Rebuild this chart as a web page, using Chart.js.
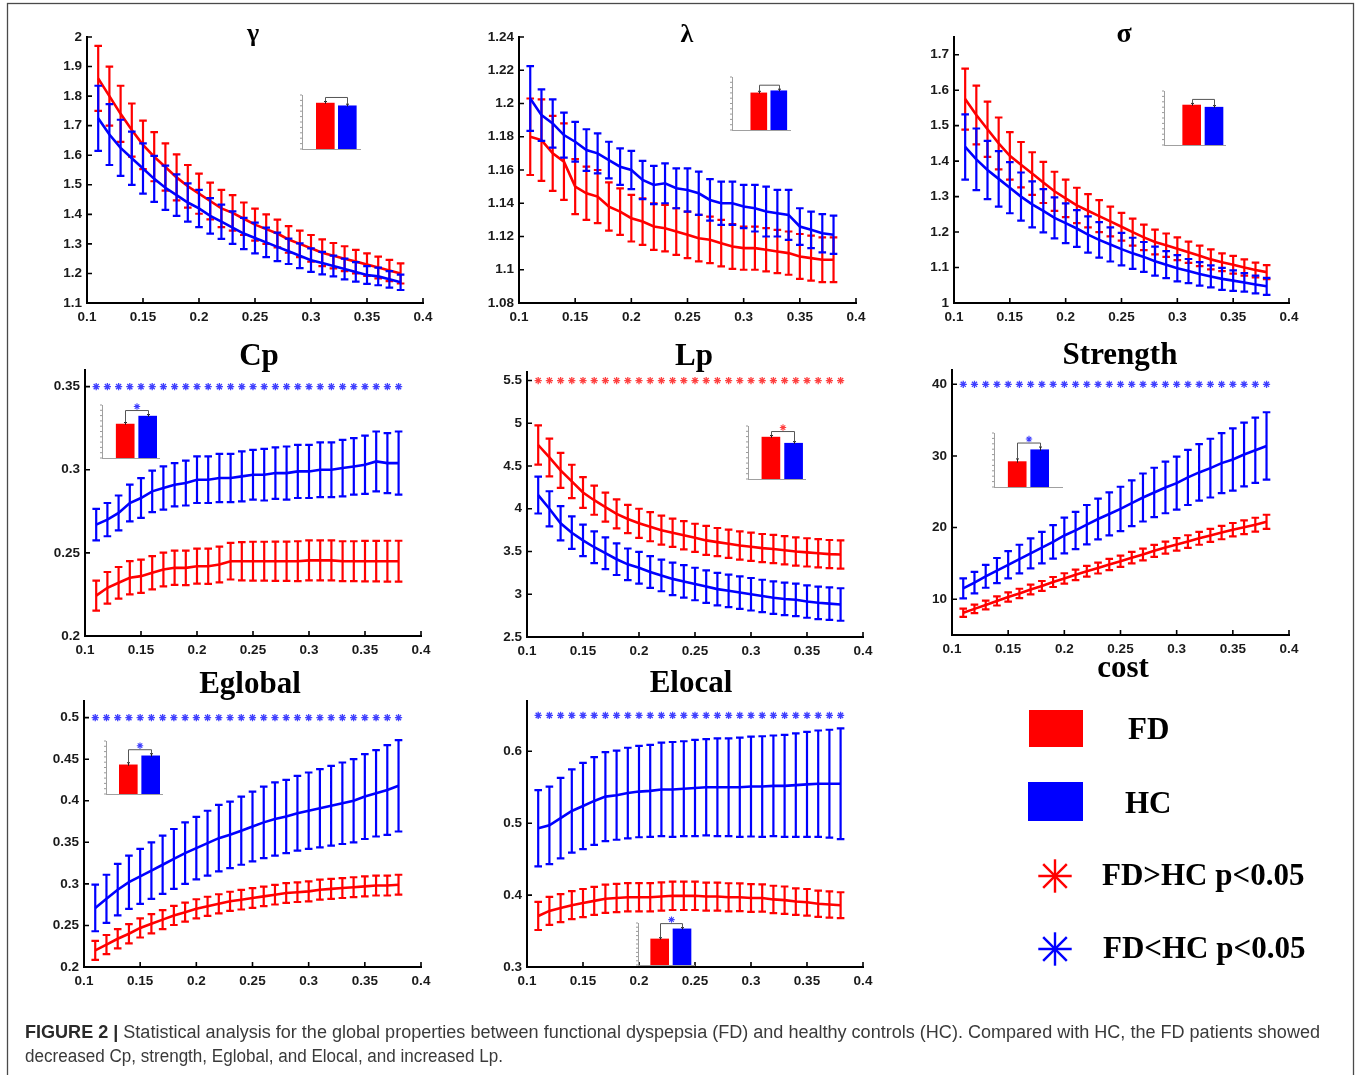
<!DOCTYPE html>
<html>
<head>
<meta charset="utf-8">
<script src="https://cdn.jsdelivr.net/npm/chart.js@4.4.1/dist/chart.umd.min.js"></script>
<style>
  html, body { margin:0; padding:0; background:#fff; }
  #fig { position:relative; width:1357px; height:1075px; overflow:hidden; background:#fff; }
  .pane { position:absolute; }
  .pane canvas { display:block; }
  #overlay { position:absolute; left:0; top:0; pointer-events:none; }
</style>
</head>
<body>
<div id="fig"></div>
<script>
// ---------------- DATA ----------------
const costs = [0.11,0.12,0.13,0.14,0.15,0.16,0.17,0.18,0.19,0.20,0.21,0.22,0.23,0.24,0.25,0.26,0.27,0.28,0.29,0.30,0.31,0.32,0.33,0.34,0.35,0.36,0.37,0.38];
const xTicks = [0.1,0.15,0.2,0.25,0.3,0.35,0.4];

const gammaFD   = [1.86,1.80,1.74,1.685,1.635,1.595,1.56,1.525,1.495,1.47,1.445,1.42,1.405,1.385,1.365,1.35,1.335,1.315,1.30,1.285,1.27,1.26,1.25,1.24,1.23,1.22,1.21,1.20];
const gammaFDsd = [0.11,0.10,0.095,0.09,0.082,0.083,0.08,0.078,0.072,0.068,0.062,0.063,0.06,0.055,0.054,0.05,0.047,0.045,0.045,0.045,0.045,0.043,0.042,0.04,0.038,0.037,0.036,0.034];
const gammaHC   = [1.725,1.67,1.625,1.59,1.555,1.52,1.49,1.465,1.44,1.42,1.395,1.375,1.355,1.335,1.32,1.305,1.29,1.275,1.26,1.245,1.235,1.225,1.215,1.205,1.195,1.19,1.18,1.17];
const gammaHCsd = [0.11,0.103,0.095,0.09,0.085,0.078,0.075,0.07,0.065,0.063,0.06,0.058,0.055,0.053,0.052,0.05,0.048,0.043,0.042,0.04,0.038,0.035,0.035,0.033,0.03,0.03,0.028,0.026];
const gammaTicks = [1.1,1.2,1.3,1.4,1.5,1.6,1.7,1.8,1.9,2];

const lambdaFD   = [1.180,1.178,1.170,1.165,1.150,1.146,1.144,1.138,1.135,1.131,1.129,1.126,1.125,1.123,1.121,1.119,1.118,1.116,1.114,1.113,1.113,1.112,1.111,1.110,1.108,1.107,1.106,1.106];
const lambdaFDsd = [0.023,0.0245,0.0225,0.023,0.0165,0.016,0.016,0.0145,0.014,0.014,0.014,0.014,0.014,0.014,0.014,0.014,0.014,0.014,0.0135,0.013,0.013,0.013,0.013,0.013,0.0135,0.0135,0.0135,0.0135];
const lambdaHC   = [1.203,1.193,1.188,1.181,1.177,1.172,1.170,1.166,1.162,1.160,1.154,1.151,1.152,1.149,1.148,1.146,1.142,1.140,1.140,1.138,1.137,1.135,1.134,1.133,1.126,1.124,1.122,1.121];
const lambdaHCsd = [0.0195,0.0155,0.0145,0.0135,0.012,0.0125,0.012,0.011,0.011,0.0115,0.0115,0.0115,0.012,0.012,0.013,0.013,0.0125,0.013,0.013,0.013,0.014,0.015,0.014,0.015,0.011,0.011,0.0115,0.0115];
const lambdaTicks = [1.08,1.1,1.12,1.14,1.16,1.18,1.2,1.22,1.24];

const sigmaFD   = [1.575,1.53,1.49,1.45,1.415,1.39,1.365,1.34,1.315,1.295,1.275,1.26,1.245,1.23,1.215,1.20,1.185,1.172,1.163,1.153,1.143,1.133,1.123,1.115,1.108,1.10,1.093,1.087];
const sigmaFDsd = [0.086,0.083,0.078,0.073,0.067,0.064,0.06,0.058,0.055,0.053,0.05,0.047,0.045,0.042,0.039,0.038,0.036,0.035,0.033,0.032,0.03,0.029,0.028,0.025,0.025,0.023,0.021,0.02];
const sigmaHC   = [1.44,1.405,1.375,1.35,1.325,1.30,1.278,1.26,1.24,1.225,1.21,1.193,1.178,1.165,1.152,1.14,1.13,1.118,1.108,1.098,1.09,1.082,1.075,1.068,1.063,1.058,1.052,1.047];
const sigmaHCsd = [0.092,0.087,0.082,0.078,0.072,0.068,0.065,0.061,0.058,0.056,0.052,0.051,0.05,0.048,0.046,0.044,0.042,0.041,0.038,0.037,0.034,0.033,0.031,0.031,0.029,0.026,0.025,0.024];
const sigmaTicks = [1,1.1,1.2,1.3,1.4,1.5,1.6,1.7];

const cpFD   = [0.2243,0.229,0.232,0.235,0.236,0.238,0.240,0.241,0.241,0.242,0.242,0.243,0.245,0.245,0.245,0.245,0.245,0.245,0.245,0.2455,0.2455,0.2455,0.245,0.245,0.245,0.245,0.245,0.245];
const cpFDsd = [0.009,0.0095,0.0095,0.01,0.01,0.01,0.0102,0.0103,0.0104,0.0105,0.0106,0.0108,0.011,0.0115,0.0117,0.0117,0.0118,0.0118,0.012,0.012,0.012,0.012,0.012,0.012,0.0122,0.0122,0.0123,0.0123];
const cpHC   = [0.267,0.270,0.274,0.280,0.283,0.287,0.289,0.291,0.292,0.294,0.294,0.295,0.295,0.296,0.297,0.297,0.298,0.298,0.299,0.299,0.300,0.300,0.301,0.302,0.303,0.305,0.304,0.304];
const cpHCsd = [0.0095,0.01,0.0105,0.011,0.012,0.0125,0.013,0.013,0.0135,0.014,0.014,0.0145,0.0145,0.015,0.015,0.0155,0.0155,0.016,0.016,0.016,0.0165,0.0165,0.017,0.017,0.0175,0.018,0.018,0.019];
const cpTicks = [0.2,0.25,0.3,0.35];

const lpFD   = [4.746,4.60,4.45,4.32,4.19,4.10,4.02,3.94,3.88,3.83,3.79,3.75,3.72,3.69,3.66,3.63,3.61,3.59,3.57,3.555,3.54,3.53,3.515,3.50,3.49,3.48,3.47,3.465];
const lpFDsd = [0.23,0.22,0.205,0.195,0.18,0.17,0.17,0.17,0.165,0.17,0.17,0.17,0.165,0.165,0.165,0.17,0.165,0.165,0.165,0.165,0.165,0.165,0.165,0.165,0.165,0.165,0.165,0.165];
const lpHC   = [4.16,4.00,3.83,3.72,3.63,3.55,3.48,3.41,3.35,3.31,3.26,3.22,3.18,3.15,3.12,3.09,3.06,3.04,3.02,3.00,2.98,2.96,2.945,2.935,2.915,2.90,2.89,2.88];
const lpHCsd = [0.215,0.205,0.2,0.19,0.185,0.185,0.185,0.185,0.185,0.185,0.185,0.185,0.19,0.19,0.19,0.19,0.19,0.19,0.19,0.19,0.19,0.19,0.19,0.19,0.19,0.19,0.19,0.19];
const lpTicks = [2.5,3,3.5,4,4.5,5,5.5];

const strFD   = [8.1,8.65,9.2,9.75,10.3,10.8,11.35,11.85,12.4,12.9,13.4,13.9,14.35,14.85,15.3,15.8,16.25,16.75,17.2,17.65,18.05,18.5,18.9,19.3,19.7,20.05,20.4,20.8];
const strFDsd = [0.58,0.6,0.61,0.63,0.64,0.66,0.67,0.69,0.7,0.72,0.73,0.75,0.76,0.78,0.79,0.81,0.82,0.84,0.85,0.87,0.88,0.9,0.91,0.93,0.94,0.96,0.97,0.99];
const strHC   = [11.5,12.3,13.2,14.0,14.8,15.6,16.4,17.2,18.0,18.9,19.6,20.4,21.2,21.9,22.6,23.4,24.2,24.9,25.6,26.2,27.0,27.7,28.3,29.0,29.5,30.2,30.8,31.4];
const strHCsd = [1.4,1.5,1.6,1.75,1.9,2.0,2.1,2.2,2.35,2.5,2.6,2.75,2.85,3.0,3.1,3.2,3.35,3.45,3.6,3.7,3.85,3.95,4.1,4.2,4.35,4.45,4.55,4.7];
const strTicks = [10,20,30,40];

const egFD   = [0.220,0.227,0.234,0.240,0.247,0.252,0.257,0.262,0.266,0.270,0.273,0.276,0.279,0.281,0.283,0.285,0.287,0.289,0.290,0.291,0.293,0.294,0.295,0.296,0.297,0.298,0.298,0.299];
const egFDsd = [0.0115,0.0115,0.0115,0.0115,0.0115,0.0115,0.0115,0.0115,0.0115,0.0115,0.0115,0.0115,0.0115,0.0118,0.0118,0.0118,0.0118,0.0118,0.0118,0.012,0.012,0.012,0.012,0.012,0.012,0.012,0.012,0.012];
const egHC   = [0.271,0.282,0.293,0.302,0.309,0.316,0.323,0.330,0.337,0.343,0.349,0.355,0.359,0.364,0.369,0.374,0.378,0.381,0.385,0.388,0.391,0.394,0.397,0.400,0.405,0.409,0.413,0.418];
const egHCsd = [0.028,0.029,0.031,0.032,0.033,0.034,0.035,0.036,0.037,0.0375,0.039,0.040,0.040,0.041,0.042,0.043,0.044,0.044,0.045,0.046,0.047,0.048,0.049,0.050,0.051,0.052,0.054,0.055];
const egTicks = [0.2,0.25,0.3,0.35,0.4,0.45,0.5];

const elFD   = [0.371,0.378,0.382,0.386,0.389,0.392,0.395,0.396,0.397,0.397,0.397,0.398,0.399,0.399,0.399,0.398,0.398,0.397,0.397,0.396,0.396,0.394,0.393,0.391,0.390,0.388,0.387,0.386];
const elFDsd = [0.0195,0.0195,0.0195,0.0195,0.0195,0.0195,0.0197,0.0197,0.0197,0.0197,0.0197,0.0197,0.0197,0.0197,0.0197,0.0195,0.0195,0.0195,0.0193,0.0193,0.019,0.019,0.019,0.0185,0.0185,0.0183,0.0182,0.018];
const elHC   = [0.493,0.497,0.507,0.517,0.524,0.531,0.537,0.539,0.542,0.544,0.545,0.547,0.547,0.548,0.549,0.550,0.550,0.550,0.550,0.551,0.551,0.552,0.552,0.553,0.554,0.555,0.555,0.555];
const elHCsd = [0.053,0.054,0.056,0.058,0.06,0.061,0.062,0.062,0.063,0.0635,0.064,0.065,0.066,0.066,0.067,0.067,0.068,0.068,0.069,0.0695,0.07,0.07,0.071,0.072,0.073,0.074,0.075,0.077];
const elTicks = [0.3,0.4,0.5,0.6];

// panel titles, significance rows (value level, which group is larger)
const panelTitles = ['γ','λ','σ','Cp','Lp','Strength','Eglobal','Elocal'];
const sigLevels   = [null,null,null,0.35,5.5,40,0.5,0.65];
const sigGroup    = [null,null,null,'HC','FD','HC','HC','HC'];

// inset bar charts (relative heights, mean over costs)
const insetFD  = [0.85,0.70,0.74,0.64,0.79,0.47,0.55,0.62];
const insetHC  = [0.80,0.74,0.70,0.79,0.675,0.69,0.72,0.86];
const insetErr = [0.03,0.03,0.03,0.03,0.03,0.05,0.04,0.03];

const legendLabels = ['FD','HC','FD>HC p<0.05','FD<HC p<0.05'];
const xAxisTitle = 'cost';

// ---------------- STYLE / LAYOUT ----------------
const RED = '#ff0000', BLUE = '#0000ff';
const STAR_RED = '#ff4040', STAR_BLUE = '#3f3fff';

const panels = [
  {fd:gammaFD, fdsd:gammaFDsd, hc:gammaHC, hcsd:gammaHCsd, ticks:gammaTicks, min:1.1, max:2,    box:[87,37,423,303],   inset:[302,95,360,149],  unit:22,  redOff:23.3},
  {fd:lambdaFD,fdsd:lambdaFDsd,hc:lambdaHC,hcsd:lambdaHCsd,ticks:lambdaTicks,min:1.08,max:1.24, box:[519,37,856,303],  inset:[732,77,790,130],  unit:20,  redOff:26.8},
  {fd:sigmaFD, fdsd:sigmaFDsd, hc:sigmaHC, hcsd:sigmaHCsd, ticks:sigmaTicks, min:1,   max:1.75, box:[954,37,1289,303], inset:[1164,91,1225,145],unit:22.3,redOff:27.7},
  {fd:cpFD,    fdsd:cpFDsd,    hc:cpHC,    hcsd:cpHCsd,    ticks:cpTicks,    min:0.2, max:0.36, box:[85,370,421,636],  inset:[102,405,159,458], unit:22.5,redOff:23.2},
  {fd:lpFD,    fdsd:lpFDsd,    hc:lpHC,    hcsd:lpHCsd,    ticks:lpTicks,    min:2.5, max:5.6,  box:[527,372,863,637], inset:[748,426,805,479], unit:22.7,redOff:22.9},
  {fd:strFD,   fdsd:strFDsd,   hc:strHC,   hcsd:strHCsd,   ticks:strTicks,   min:5,   max:42,   box:[952,370,1289,635],inset:[994,433,1062,487],unit:22.5,redOff:23.2},
  {fd:egFD,    fdsd:egFDsd,    hc:egHC,    hcsd:egHCsd,    ticks:egTicks,    min:0.2, max:0.52, box:[84,701,421,967],  inset:[106,741,162,794], unit:22.4,redOff:22.3},
  {fd:elFD,    fdsd:elFDsd,    hc:elHC,    hcsd:elHCsd,    ticks:elTicks,    min:0.3, max:0.67, box:[527,701,863,967], inset:[638,923,694,965], unit:22.3,redOff:21.7}
];

const titlePos = [
  [253,41,26],[687,42,26],[1124,42,28],
  [259,365,31],[694,365,31],[1120,364,31],
  [250,693,31],[691,692,31]
];

const fig = document.getElementById('fig');
const fmt = v => String(+(+v).toFixed(4));
const tickFont = {family:'"Liberation Sans", Arial, sans-serif', weight:'bold', size:13.5};

// error bars drawn before each dataset's line
const errorBarPlugin = {
  id:'errorBars',
  beforeDatasetDraw(chart, args) {
    const ds = chart.data.datasets[args.index];
    if (!ds.errors) return;
    const ctx = chart.ctx, xs = chart.scales.x, ys = chart.scales.y;
    ctx.save();
    ctx.strokeStyle = ds.borderColor;
    ctx.lineWidth = 2.2;
    ctx.lineCap = 'butt';
    ctx.beginPath();
    ds.data.forEach((p, i) => {
      const x = xs.getPixelForValue(p.x);
      const yt = ys.getPixelForValue(p.y + ds.errors[i]);
      const yb = ys.getPixelForValue(p.y - ds.errors[i]);
      ctx.moveTo(x, yt); ctx.lineTo(x, yb);
      ctx.moveTo(x - 3.8, yt); ctx.lineTo(x + 3.8, yt);
      ctx.moveTo(x - 3.8, yb); ctx.lineTo(x + 3.8, yb);
    });
    ctx.stroke();
    ctx.restore();
  }
};

// inward tick marks like the original figure
const inwardTicks = {
  id:'inwardTicks',
  afterDraw(chart) {
    const {ctx, chartArea:a, scales:{x, y}} = chart;
    ctx.save();
    ctx.strokeStyle = '#000'; ctx.lineWidth = 1.6;
    ctx.beginPath();
    x.ticks.forEach(t => { const px = x.getPixelForValue(t.value); ctx.moveTo(px, a.bottom); ctx.lineTo(px, a.bottom - 5); });
    y.ticks.forEach(t => { const py = y.getPixelForValue(t.value); ctx.moveTo(a.left, py); ctx.lineTo(a.left + 5, py); });
    ctx.stroke();
    ctx.restore();
  }
};

function makeBox(left, top, w, h) {
  const d = document.createElement('div');
  d.className = 'pane';
  d.style.left = left + 'px'; d.style.top = top + 'px';
  d.style.width = w + 'px'; d.style.height = h + 'px';
  const c = document.createElement('canvas');
  c.width = w; c.height = h;
  c.style.width = w + 'px'; c.style.height = h + 'px';
  d.appendChild(c);
  fig.appendChild(d);
  return c;
}

function makePanel(p, idx) {
  const padL = 4, padT = 14, padR = 20, padB = 4, yW = 46, xH = 26;
  const [L, T, R, B] = p.box;
  const w = padL + yW + (R - L) + padR, h = padT + (B - T) + xH + padB;
  const cv = makeBox(L - padL - yW, T - padT, w, h);
  const toPts = arr => costs.map((c, i) => ({x:c, y:arr[i]}));
  const datasets = [
    {label:'HC', data:toPts(p.hc), errors:p.hcsd, borderColor:BLUE, backgroundColor:BLUE, borderWidth:2.6, pointRadius:0, tension:0, order:1},
    {label:'FD', data:toPts(p.fd), errors:p.fdsd, borderColor:RED,  backgroundColor:RED,  borderWidth:2.6, pointRadius:0, tension:0, order:2}
  ];
  if (sigLevels[idx] !== null) {
    const col = sigGroup[idx] === 'FD' ? STAR_RED : STAR_BLUE;
    datasets.push({label:'sig', data:costs.map(c => ({x:c, y:sigLevels[idx]})), showLine:false,
      pointStyle:'star', pointRadius:3.6, borderColor:col, backgroundColor:col, pointBorderWidth:1.3, borderWidth:1.3, order:0, clip:false});
  }
  new Chart(cv, {
    type:'line',
    data:{datasets},
    options:{
      responsive:false, animation:false, devicePixelRatio:1,
      layout:{padding:{left:padL, top:padT, right:padR, bottom:padB}},
      plugins:{legend:{display:false}, tooltip:{enabled:false}},
      scales:{
        x:{type:'linear', min:0.1, max:0.4,
           afterBuildTicks:s => { s.ticks = xTicks.map(v => ({value:v})); },
           afterFit:s => { s.height = xH; s.paddingLeft = 0; s.paddingRight = 0; },
           grid:{display:false, drawTicks:false}, border:{display:true, color:'#000', width:2},
           ticks:{font:tickFont, color:'#1a1a1a', padding:6, maxRotation:0, autoSkip:false, callback:fmt}},
        y:{type:'linear', min:p.min, max:p.max,
           afterBuildTicks:s => { s.ticks = p.ticks.map(v => ({value:v})); },
           afterFit:s => { s.width = yW; s.paddingTop = 0; s.paddingBottom = 0; },
           grid:{display:false, drawTicks:false}, border:{display:true, color:'#000', width:2},
           ticks:{font:tickFont, color:'#1a1a1a', padding:5, autoSkip:false, callback:fmt}}
      }
    },
    plugins:[errorBarPlugin, inwardTicks]
  });
}

// inset bracket, whiskers, tick marks and significance star
const insetDecor = {
  id:'insetDecor',
  afterDatasetsDraw(chart) {
    const ctx = chart.ctx, xs = chart.scales.x, ys = chart.scales.y, a = chart.chartArea;
    const ds = chart.data.datasets[0];
    ctx.save();
    ctx.strokeStyle = '#9a9a9a'; ctx.lineWidth = 1;
    ctx.beginPath();
    for (let k = 0; k <= 10; k++) { const y = a.bottom - (a.bottom - a.top) * k / 10; ctx.moveTo(a.left - 2, y); ctx.lineTo(a.left, y); }
    ctx.stroke();
    ctx.strokeStyle = '#222'; ctx.lineWidth = 1;
    const tops = [];
    ds.data.forEach((p, i) => {
      const x = Math.round(xs.getPixelForValue(p.x)) + 0.5;
      const yt = ys.getPixelForValue(p.y + ds.errs[i]);
      const yb = ys.getPixelForValue(p.y - ds.errs[i] * 0.4);
      ctx.beginPath(); ctx.moveTo(x, yt); ctx.lineTo(x, yb);
      ctx.moveTo(x - 1.5, yt); ctx.lineTo(x + 1.5, yt); ctx.stroke();
      tops.push({x, y:yt});
    });
    const by = Math.min(tops[0].y, tops[1].y) - 4;
    ctx.strokeStyle = '#555';
    ctx.beginPath();
    ctx.moveTo(tops[0].x, tops[0].y); ctx.lineTo(tops[0].x, by); ctx.lineTo(tops[1].x, by); ctx.lineTo(tops[1].x, tops[1].y);
    ctx.stroke();
    if (ds.sig) {
      const cx = (tops[0].x + tops[1].x) / 2, cy = by - 4, r = 3.2;
      ctx.strokeStyle = ds.sig === 'FD' ? STAR_RED : STAR_BLUE; ctx.lineWidth = 1.1;
      ctx.beginPath();
      for (let k = 0; k < 4; k++) { const ang = k * Math.PI / 4; ctx.moveTo(cx - r * Math.cos(ang), cy - r * Math.sin(ang)); ctx.lineTo(cx + r * Math.cos(ang), cy + r * Math.sin(ang)); }
      ctx.stroke();
    }
    ctx.restore();
  }
};

function makeInset(p, idx) {
  const [L, T, R, B] = p.inset;
  const padL = 4, padT = 14, padR = 4, padB = 3;
  const w = padL + (R - L) + padR, h = padT + (B - T) + padB;
  const cv = makeBox(L - padL, T - padT, w, h);
  const xmin = 1 - p.redOff / p.unit, xmax = xmin + (R - L) / p.unit;
  new Chart(cv, {
    type:'bar',
    data:{datasets:[{
      data:[{x:1, y:insetFD[idx]}, {x:2, y:insetHC[idx]}],
      errs:[insetErr[idx], insetErr[idx]], sig:sigGroup[idx],
      backgroundColor:[RED, BLUE], borderWidth:0, barThickness:Math.round(p.unit * 0.8), grouped:false
    }]},
    options:{
      responsive:false, animation:false, devicePixelRatio:1,
      layout:{padding:{left:padL, top:padT, right:padR, bottom:padB}},
      plugins:{legend:{display:false}, tooltip:{enabled:false}},
      scales:{
        x:{type:'linear', min:xmin, max:xmax, offset:false, grid:{display:false, offset:false, drawTicks:false}, ticks:{display:false},
           border:{display:true, color:'#a0a0a0', width:1},
           afterFit:s => { s.height = 0; s.paddingLeft = 0; s.paddingRight = 0; }},
        y:{type:'linear', min:0, max:1, grid:{display:false, drawTicks:false}, ticks:{display:false},
           border:{display:true, color:'#a0a0a0', width:1},
           afterFit:s => { s.width = 0; s.paddingTop = 0; s.paddingBottom = 0; }}
      }
    },
    plugins:[insetDecor]
  });
}

panels.forEach((p, i) => makePanel(p, i));
panels.forEach((p, i) => makeInset(p, i));

// ---------------- TEXT OVERLAY (titles, legend, caption) ----------------
const NS = 'http://www.w3.org/2000/svg';
const svg = document.createElementNS(NS, 'svg');
svg.setAttribute('id', 'overlay');
svg.setAttribute('width', 1357); svg.setAttribute('height', 1075);
fig.appendChild(svg);
function el(tag, attrs, text) {
  const e = document.createElementNS(NS, tag);
  for (const k in attrs) e.setAttribute(k, attrs[k]);
  if (text !== undefined) e.textContent = text;
  svg.appendChild(e);
  return e;
}
const SERIF = '"Liberation Serif", "Times New Roman", serif';
el('rect', {x:7.5, y:3.5, width:1346, height:1090, fill:'none', stroke:'#4a4a4a', 'stroke-width':1.3});
panelTitles.forEach((t, i) => {
  const [x, y, s] = titlePos[i];
  el('text', {x, y, 'text-anchor':'middle', 'font-family':SERIF, 'font-weight':'bold', 'font-size':s, fill:'#000'}, t);
});
el('text', {x:1123, y:677, 'text-anchor':'middle', 'font-family':SERIF, 'font-weight':'bold', 'font-size':31, fill:'#000'}, xAxisTitle);

el('rect', {x:1029, y:710, width:54, height:37, fill:RED});
el('rect', {x:1028, y:782, width:55, height:39, fill:BLUE});
el('text', {x:1128, y:739, 'font-family':SERIF, 'font-weight':'bold', 'font-size':31, fill:'#000'}, legendLabels[0]);
el('text', {x:1125, y:813, 'font-family':SERIF, 'font-weight':'bold', 'font-size':31, fill:'#000'}, legendLabels[1]);
el('text', {x:1102, y:885, 'font-family':SERIF, 'font-weight':'bold', 'font-size':31, fill:'#000'}, legendLabels[2]);
el('text', {x:1103, y:958, 'font-family':SERIF, 'font-weight':'bold', 'font-size':31, fill:'#000'}, legendLabels[3]);
function star(cx, cy, r, col) {
  for (let k = 0; k < 4; k++) {
    const ang = k * Math.PI / 4;
    el('line', {x1:cx - r * Math.sin(ang), y1:cy - r * Math.cos(ang), x2:cx + r * Math.sin(ang), y2:cy + r * Math.cos(ang), stroke:col, 'stroke-width':2.4});
  }
}
star(1055, 876, 16.7, RED);
star(1055, 949, 16.7, BLUE);

const CAP_FONT = '"Liberation Sans", Arial, sans-serif';
const cap1 = el('text', {x:25, y:1038, 'font-family':CAP_FONT, 'font-size':18, fill:'#3a3a3a', textLength:1295, lengthAdjust:'spacingAndGlyphs'});
const b1 = document.createElementNS(NS, 'tspan'); b1.setAttribute('font-weight', 'bold'); b1.setAttribute('fill', '#2a2a2a'); b1.textContent = 'FIGURE 2 | ';
cap1.appendChild(b1);
cap1.appendChild(document.createTextNode('Statistical analysis for the global properties between functional dyspepsia (FD) and healthy controls (HC). Compared with HC, the FD patients showed'));
el('text', {x:25, y:1062, 'font-family':CAP_FONT, 'font-size':18, fill:'#3a3a3a', textLength:478, lengthAdjust:'spacingAndGlyphs'}, 'decreased Cp, strength, Eglobal, and Elocal, and increased Lp.');
</script>
</body>
</html>
